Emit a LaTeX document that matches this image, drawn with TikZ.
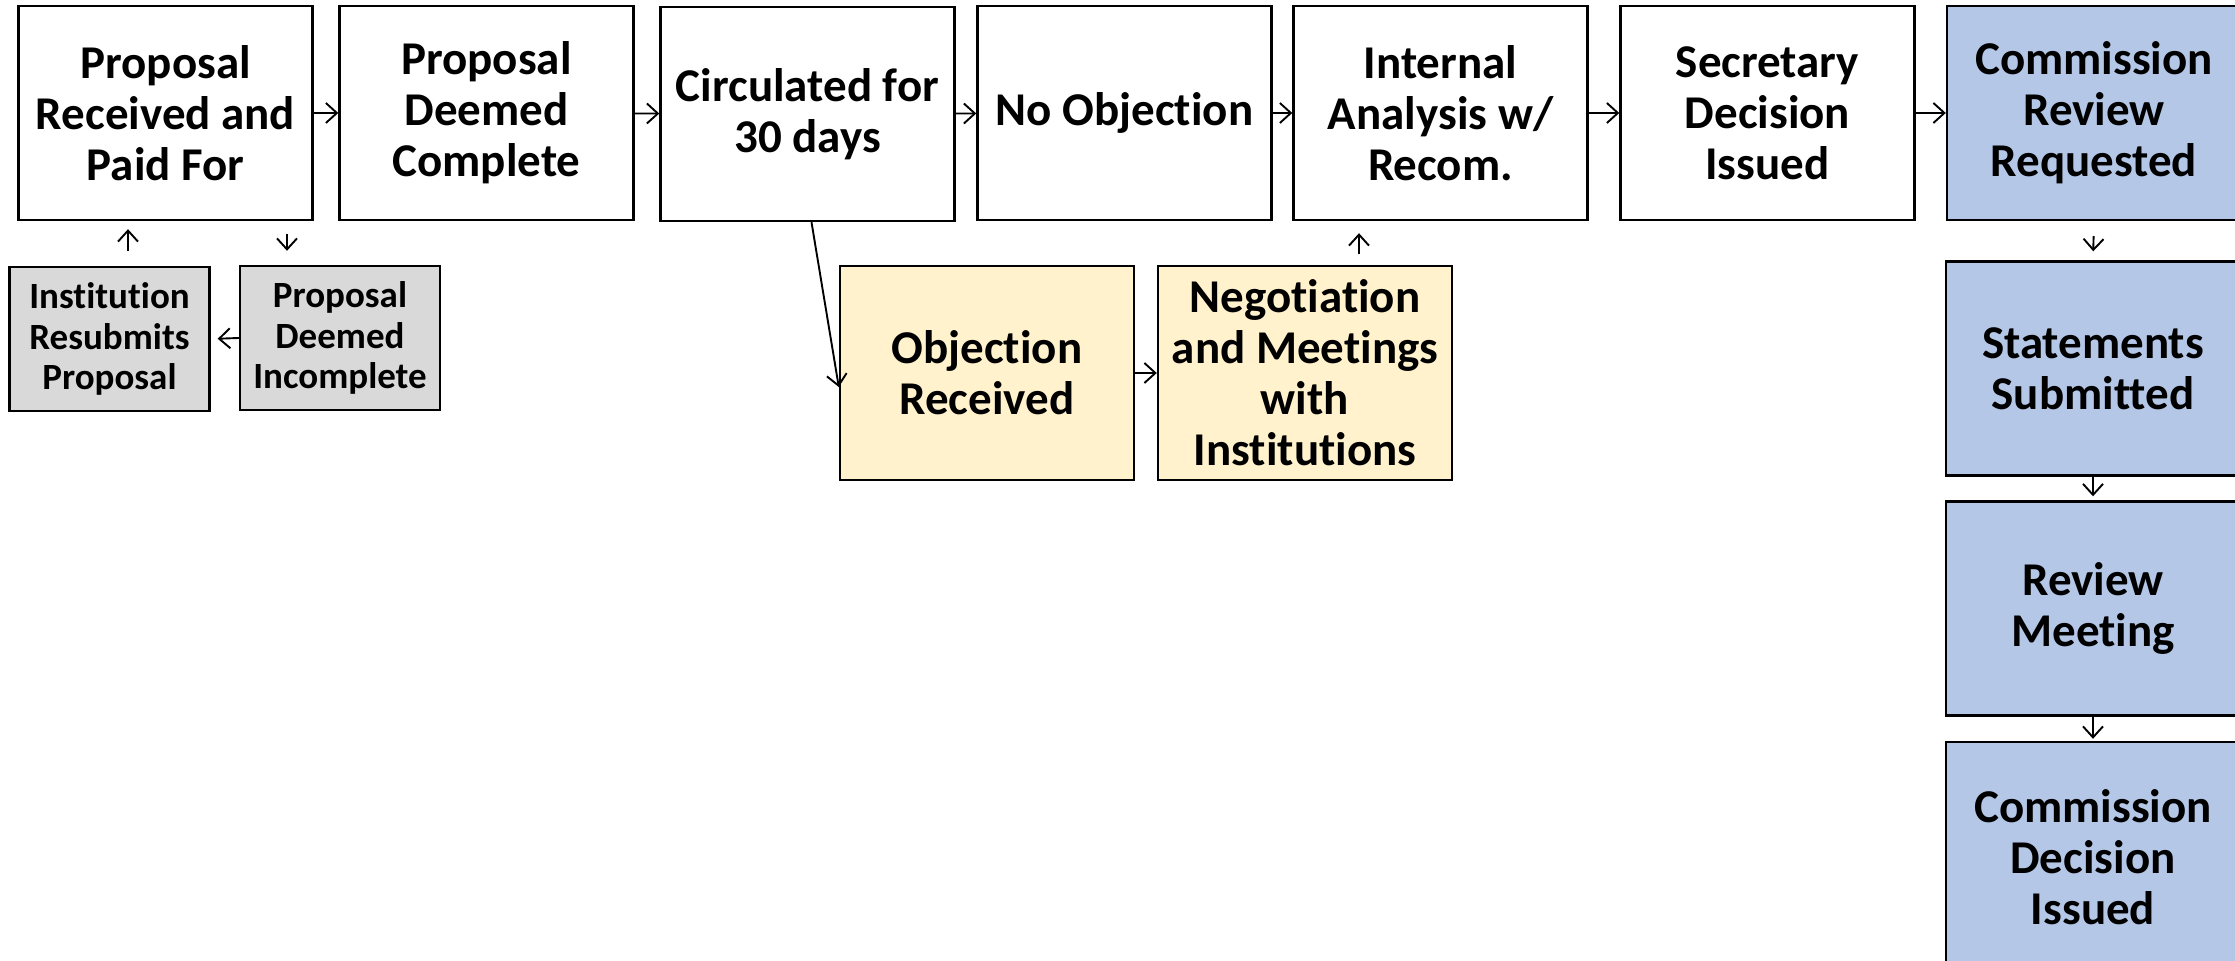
\documentclass[tikz,border=0pt]{standalone}
\usepackage{fontspec}
\setmainfont{Carlito}[RawFeature={-liga;-clig;-calt;-dlig}]
\usetikzlibrary{arrows.meta,calc}
\definecolor{grayfill}{HTML}{D9D9D9}
\definecolor{yellowfill}{HTML}{FFF2CC}
\definecolor{bluefill}{HTML}{B4C7E7}
\newcommand{\nolig}{\kern0pt\relax}
\begin{document}
\begin{tikzpicture}[x=0.5pt,y=-0.5pt,
  box/.style={draw=black, line width=1.2pt, fill=white, minimum width=147pt, minimum height=107pt,
    inner sep=0pt, align=center, font=\fontsize{23.5}{25.5}\selectfont\bfseries},
  graybox/.style={box, fill=grayfill, minimum width=100pt, minimum height=72pt,
    font=\fontsize{18.5}{20.3}\selectfont\bfseries},
  yellowbox/.style={box, fill=yellowfill},
  bluebox/.style={box, fill=bluefill},
  arr/.style={line width=0.95pt, -{Straight Barb[length=5.5pt,width=10pt]}}]
\useasboundingbox (0,0) rectangle (2235,961);
% top row
\node[box] (b1) at (165.6,113) {Proposal\\Received and\\Paid For};
\node[box] (b2) at (486.5,113) {Proposal\\Deemed\\Complete};
\node[box] (b3) at (807.5,114) {Circulated for\\30 days};
\node[box] (b4) at (1124.5,113) {No Object\nolig ion};
\node[box] (b5) at (1440.5,113) {Internal\\Analysis w/\\Recom.};
\node[box] (b6) at (1767.5,113) {Secretary\\Decision\\Issued};
\node[bluebox] (b7) at (2094,113) {Commission\\Review\\Requested};
% right column
\node[bluebox] (s) at (2093,368.5) {Statements\\Submitted};
\node[bluebox] (r) at (2093,608.5) {Review\\Meet\nolig ing};
\node[bluebox, minimum height=115pt] (c) at (2093,857) {Commission\\Decision\\Issued};
% objection row
\node[yellowbox] (o) at (987,373) {Object\nolig ion\\Received};
\node[yellowbox] (n) at (1305,373) {Negot\nolig iat\nolig ion\\and Meet\nolig ings\\with\\Inst\nolig itut\nolig ions};
% gray boxes
\node[graybox] (g1) at (109.5,339) {Inst\nolig itut\nolig ion\\Resubmits\\Proposal};
\node[graybox] (g2) at (340,338) {Proposal\\Deemed\\Incomplete};
% helper x-positions
\coordinate (x287) at (287,0);
\coordinate (x128) at (128,0);
\coordinate (x1359) at (1359,0);
% arrows top row
\draw[arr] (b1) -- (b2);
\draw[arr] (b2) -- (b3);
\draw[arr] (b3) -- (b4);
\draw[arr] (b4) -- (b5);
\draw[arr] (b5) -- (b6);
\draw[arr] (b6) -- (b7);
% gray loop
\draw[arr, shorten <=6.5pt, shorten >=7pt] (b1.south -| x287) -- (g2.north -| x287);
\draw[arr, shorten >=3.5pt] (g2.west) -- (g1.east);
\draw[arr, shorten <=7.5pt, shorten >=4pt] (g1.north -| x128) -- (b1.south -| x128);
% objection path
\draw[arr] ([xshift=2pt]b3.south) -- ([yshift=-7pt]o.west);
\draw[arr] (o) -- (n);
\draw[arr, shorten <=5.5pt, shorten >=6pt] (n.north -| x1359) -- (b5.south -| x1359);
% right column
\draw[arr, shorten <=7.5pt, shorten >=4.5pt] (b7.south) -- (s.north);
\draw[arr, shorten >=2pt] (s) -- (r);
\draw[arr, shorten >=1pt] (r) -- (c);
\end{tikzpicture}
\end{document}
